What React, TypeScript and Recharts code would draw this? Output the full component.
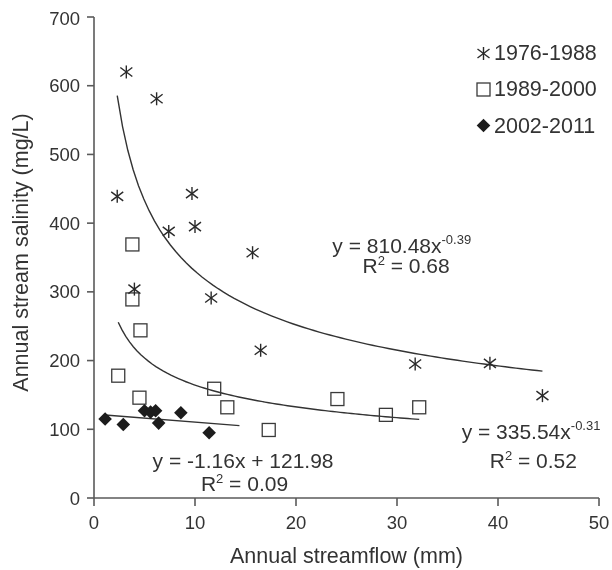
import React from 'react';
import { ScatterChart, Scatter, XAxis, YAxis, Label, ReferenceDot, Legend } from 'recharts';

const FONT = '"Liberation Sans", Arial, Helvetica, sans-serif';
const TEXT = '#333333';
const AXIS = '#5a5a5a';
const MARK = '#2a2a2a';

// ---------- data ----------
const xTicks = [0, 10, 20, 30, 40, 50];
const yTicks = [0, 100, 200, 300, 400, 500, 600, 700];

const s1Name = '1976-1988';
const s1X = [3.2, 6.2, 2.3, 9.7, 7.4, 10.0, 15.7, 4.0, 11.6, 16.5, 31.8, 39.2, 44.4];
const s1Y = [620, 581, 439, 443, 388, 395, 357, 304, 291, 215, 195, 196, 149];

const s2Name = '1989-2000';
const s2X = [3.8, 3.8, 4.6, 2.4, 4.5, 11.9, 13.2, 17.3, 24.1, 28.9, 32.2];
const s2Y = [369, 289, 244, 178, 146, 159, 132, 99, 144, 121, 132];

const s3Name = '2002-2011';
const s3X = [1.1, 2.9, 5.0, 5.6, 6.1, 6.4, 8.6, 11.4];
const s3Y = [115, 107, 127, 125, 127, 109, 124, 95];

// trend lines as printed on the chart
const fit1 = { a: 810.48, b: -0.39, from: 2.3, to: 44.4 };
const fit2 = { a: 335.54, b: -0.31, from: 2.4, to: 32.2 };
const fit3 = { slope: -1.16, intercept: 121.98, from: 1.1, to: 14.4 };

// equation label anchors (data coordinates)
const eq1 = { line1: { x: 23.6, y: 368 }, line2: { x: 30.9, y: 338 } };
const eq2 = { line1: { x: 36.4, y: 97.5 }, line2: { x: 43.5, y: 55 } };
const eq3 = { line1: { x: 5.8, y: 54 }, line2: { x: 14.9, y: 21 } };

const toPts = (xs: number[], ys: number[]) => xs.map((x, i) => ({ x, y: ys[i] }));
const s1 = toPts(s1X, s1Y);
const s2 = toPts(s2X, s2Y);
const s3 = toPts(s3X, s3Y);

const N = 80;
const powerCurve = (f: { a: number; b: number; from: number; to: number }) =>
  Array.from({ length: N + 1 }, (_, i) => {
    const x = f.from + ((f.to - f.from) * i) / N;
    return { x, y: f.a * Math.pow(x, f.b) };
  });
const curve1 = powerCurve(fit1);
const curve2 = powerCurve(fit2);
const line3 = [fit3.from, fit3.to].map((x) => ({ x, y: fit3.slope * x + fit3.intercept }));

// ---------- shapes ----------
const Asterisk = (p: any) => {
  const { cx, cy } = p;
  return (
    <g stroke={MARK} strokeWidth={1.4} strokeLinecap="butt">
      <line x1={cx} y1={cy - 6.5} x2={cx} y2={cy + 6.5} />
      <line x1={cx - 6} y1={cy - 4.5} x2={cx + 6} y2={cy + 4.5} />
      <line x1={cx - 6} y1={cy + 4.5} x2={cx + 6} y2={cy - 4.5} />
    </g>
  );
};
const Square = (p: any) => {
  const { cx, cy } = p;
  return <rect x={cx - 6.5} y={cy - 6.5} width={13} height={13} fill="none" stroke="#3a3a3a" strokeWidth={1.3} />;
};
const Diamond = (p: any) => {
  const { cx, cy } = p;
  const r = 6.8;
  return <polygon points={`${cx},${cy - r} ${cx + r},${cy} ${cx},${cy + r} ${cx - r},${cy}`} fill="#1c1c1c" />;
};
const NoDot = () => <g />;

const FS = 21;
const eqLine1 = (a: string, exp: string) => (p: any) => (
  <text x={p.cx} y={p.cy} dy="0.36em" fontFamily={FONT} fontSize={FS} fill={TEXT} textAnchor="start">
    {a}
    <tspan dy={-9} fontSize={13}>{exp}</tspan>
  </text>
);
const eqPlain = (a: string) => (p: any) => (
  <text x={p.cx} y={p.cy} dy="0.36em" fontFamily={FONT} fontSize={FS} fill={TEXT} textAnchor="start">
    {a}
  </text>
);
const rLine = (v: string) => (p: any) => (
  <text x={p.cx} y={p.cy} dy="0.36em" fontFamily={FONT} fontSize={FS} fill={TEXT} textAnchor="middle">
    R<tspan dy={-8} fontSize={13}>2</tspan>
    <tspan dy={8}>{` = ${v}`}</tspan>
  </text>
);

const legendItems = [
  { name: s1Name, Shape: Asterisk },
  { name: s2Name, Shape: Square },
  { name: s3Name, Shape: Diamond },
];

const LegendBox = () => (
  <div style={{ fontFamily: FONT, fontSize: 21.5, color: TEXT }}>
    {legendItems.map(({ name, Shape }) => (
      <div key={name} style={{ display: 'flex', alignItems: 'center', height: 36.4, lineHeight: '36.4px', whiteSpace: 'nowrap' }}>
        <svg width={17} height={17} style={{ display: 'block', marginRight: 2 }}>
          <Shape cx={8.5} cy={8.5} />
        </svg>
        <span>{name}</span>
      </div>
    ))}
  </div>
);

const XTitle = (p: any) => {
  const vb = p.viewBox;
  return (
    <text x={vb.x + vb.width / 2} y={vb.y + 65} fontFamily={FONT} fontSize={21.5} fill={TEXT} textAnchor="middle">
      Annual streamflow (mm)
    </text>
  );
};
const YTitle = (p: any) => {
  const vb = p.viewBox;
  const cx = 19.5;
  const cy = vb.y + vb.height / 2 - 5;
  return (
    <text x={cx} y={cy} transform={`rotate(-90, ${cx}, ${cy})`} fontFamily={FONT} fontSize={21.5} fill={TEXT} textAnchor="middle">
      Annual stream salinity (mg/L)
    </text>
  );
};

export default function App() {
  return (
    <div style={{ position: 'fixed', left: 8, top: 8, width: 604, height: 562 }}>
      <ScatterChart width={604} height={562} margin={{ top: 9, right: 13, bottom: 0, left: 0 }}>
        <XAxis
          type="number"
          dataKey="x"
          domain={[0, 50]}
          ticks={xTicks}
          allowDataOverflow
          height={72}
          tickSize={8}
          tickMargin={10}
          axisLine={{ stroke: AXIS, strokeWidth: 1.6 }}
          tickLine={{ stroke: AXIS, strokeWidth: 1.6 }}
          tick={{ fontFamily: FONT, fontSize: 18.5, fill: TEXT }}
        >
          <Label content={XTitle} />
        </XAxis>
        <YAxis
          type="number"
          dataKey="y"
          domain={[0, 700]}
          ticks={yTicks}
          allowDataOverflow
          width={86}
          tickSize={7}
          tickMargin={7}
          axisLine={{ stroke: AXIS, strokeWidth: 1.6 }}
          tickLine={{ stroke: AXIS, strokeWidth: 1.6 }}
          tick={{ fontFamily: FONT, fontSize: 18.5, fill: TEXT }}
        >
          <Label content={YTitle} />
        </YAxis>

        <Scatter data={curve1} line={{ stroke: '#333', strokeWidth: 1.4 }} shape={NoDot} legendType="none" isAnimationActive={false} />
        <Scatter data={curve2} line={{ stroke: '#333', strokeWidth: 1.4 }} shape={NoDot} legendType="none" isAnimationActive={false} />
        <Scatter data={line3} line={{ stroke: '#333', strokeWidth: 1.4 }} shape={NoDot} legendType="none" isAnimationActive={false} />

        <Scatter name={s2Name} data={s2} shape={Square} isAnimationActive={false} />
        <Scatter name={s1Name} data={s1} shape={Asterisk} isAnimationActive={false} />
        <Scatter name={s3Name} data={s3} shape={Diamond} isAnimationActive={false} />

        <ReferenceDot x={eq1.line1.x} y={eq1.line1.y} r={0} ifOverflow="visible" shape={eqLine1('y = 810.48x', '-0.39')} />
        <ReferenceDot x={eq1.line2.x} y={eq1.line2.y} r={0} ifOverflow="visible" shape={rLine('0.68')} />
        <ReferenceDot x={eq2.line1.x} y={eq2.line1.y} r={0} ifOverflow="visible" shape={eqLine1('y = 335.54x', '-0.31')} />
        <ReferenceDot x={eq2.line2.x} y={eq2.line2.y} r={0} ifOverflow="visible" shape={rLine('0.52')} />
        <ReferenceDot x={eq3.line1.x} y={eq3.line1.y} r={0} ifOverflow="visible" shape={eqPlain('y = -1.16x + 121.98')} />
        <ReferenceDot x={eq3.line2.x} y={eq3.line2.y} r={0} ifOverflow="visible" shape={rLine('0.09')} />

        <Legend
          layout="horizontal"
          verticalAlign="middle"
          align="center"
          content={LegendBox}
          wrapperStyle={{ position: 'absolute', left: 467, top: 27, width: 140, height: 110 }}
        />
      </ScatterChart>
    </div>
  );
}
